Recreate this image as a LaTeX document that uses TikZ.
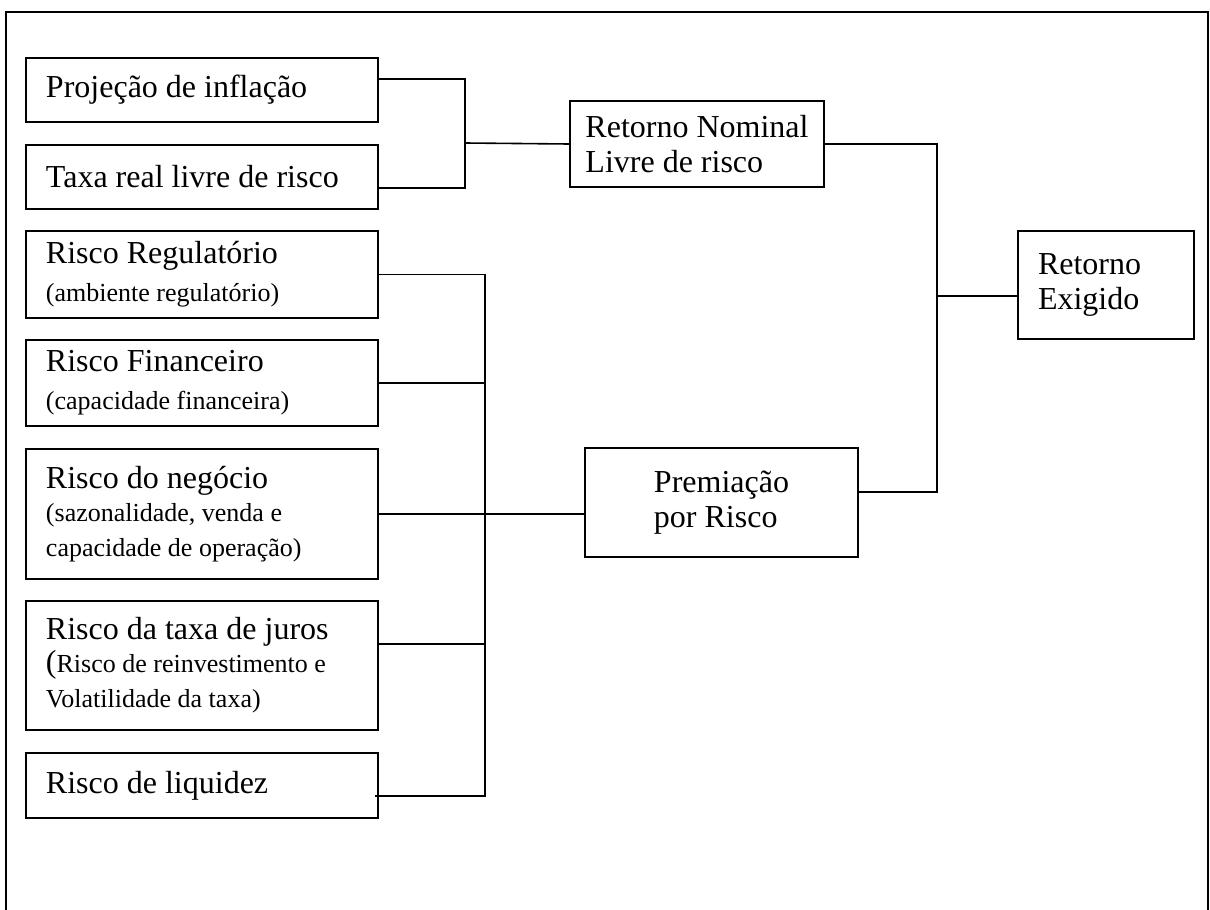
\documentclass[tikz,border=0pt]{standalone}
\usepackage{fontspec}
\setmainfont{Liberation Serif}
\usepackage{tikz}
\usetikzlibrary{positioning, calc}
\newcommand{\grande}{\fontsize{16}{17.5}\selectfont}
\newcommand{\pequeno}{\fontsize{13}{15}\selectfont}

\begin{document}
\begin{tikzpicture}[x=0.5pt, y=-0.5pt,
    caixa/.style={draw, line width=1pt, anchor=north west, inner ysep=0pt, font=\grande},
    esquerda/.style={caixa, align=flush left, inner xsep=10pt, text width=156pt},
    liga/.style={line width=0.8pt}]
  \useasboundingbox (0,0) rectangle (1210,910);

  % Moldura
  \draw[line width=1.3pt] (6,910) -- (6,12) -- (1208,12) -- (1208,910);

  % Entradas
  \node[esquerda, minimum height=32pt] (inflacao) at (25,57) {Projeção de inflação};
  \node[esquerda, minimum height=32pt] (taxareal) at (25,144) {Taxa real livre de risco};
  \node[esquerda, minimum height=43.5pt] (regulatorio) at (25,230) {Risco Regulatório\\[1.5pt]\pequeno (ambiente regulatório)};
  \node[esquerda, minimum height=43pt] (financeiro) at (25,339) {Risco Financeiro\\[1.5pt]\pequeno (capacidade financeira)};
  \node[esquerda, minimum height=65pt] (negocio) at (25,448) {Risco do negócio\\[1.5pt]\pequeno (sazonalidade, venda e\\capacidade de operação)};
  \node[esquerda, minimum height=64.5pt] (juros) at (25,600) {Risco da taxa de juros\\[1.5pt]\pequeno{\grande(}Risco de reinvestimento e\\Volatilidade da taxa)};
  \node[esquerda, minimum height=32.5pt] (liquidez) at (25,752) {Risco de liquidez};

  % Componentes
  \node[caixa, align=left, minimum width=127pt, minimum height=43pt] (nominal) at (569,100) {Retorno Nominal\\Livre de risco};
  \node[caixa, align=left, minimum width=136.5pt, minimum height=54.5pt] (premiacao) at (584,447) {Premiação\\por Risco};
  \node[caixa, align=flush left, inner xsep=10pt, text width=68pt, minimum height=54pt] (exigido) at (1017,230) {Retorno\\Exigido};

  % Pontos de juncao
  \coordinate (j1) at (465,143);
  \coordinate (b2) at (485,0);
  \coordinate (b3) at (937,0);
  \coordinate (jr) at ([yshift=10.75pt]juros.east);
  \coordinate (lq) at ([xshift=-2pt, yshift=-5.25pt]liquidez.east);
  \coordinate (pr) at ([yshift=5.25pt]premiacao.east);
  \coordinate (ex) at ([yshift=-5.5pt]exigido.west);

  % Ligacoes superiores
  \draw[liga] ([yshift=5.5pt]inflacao.east) -| (j1) |- ([yshift=-5.5pt]taxareal.east);
  \draw[liga] (j1) -- (nominal.west);

  % Ligacoes dos riscos
  \draw[liga] (regulatorio.east) -| (b2 |- lq) -- (lq);
  \draw[liga] (financeiro.east) -- (financeiro.east -| b2);
  \draw[liga] (negocio.east) -- (negocio.east -| premiacao.west);
  \draw[liga] (jr) -- (jr -| b2);

  % Ligacoes finais
  \draw[liga] (nominal.east) -| (b3 |- pr) -- (pr);
  \draw[liga] (ex) -- (ex -| b3);
\end{tikzpicture}
\end{document}
